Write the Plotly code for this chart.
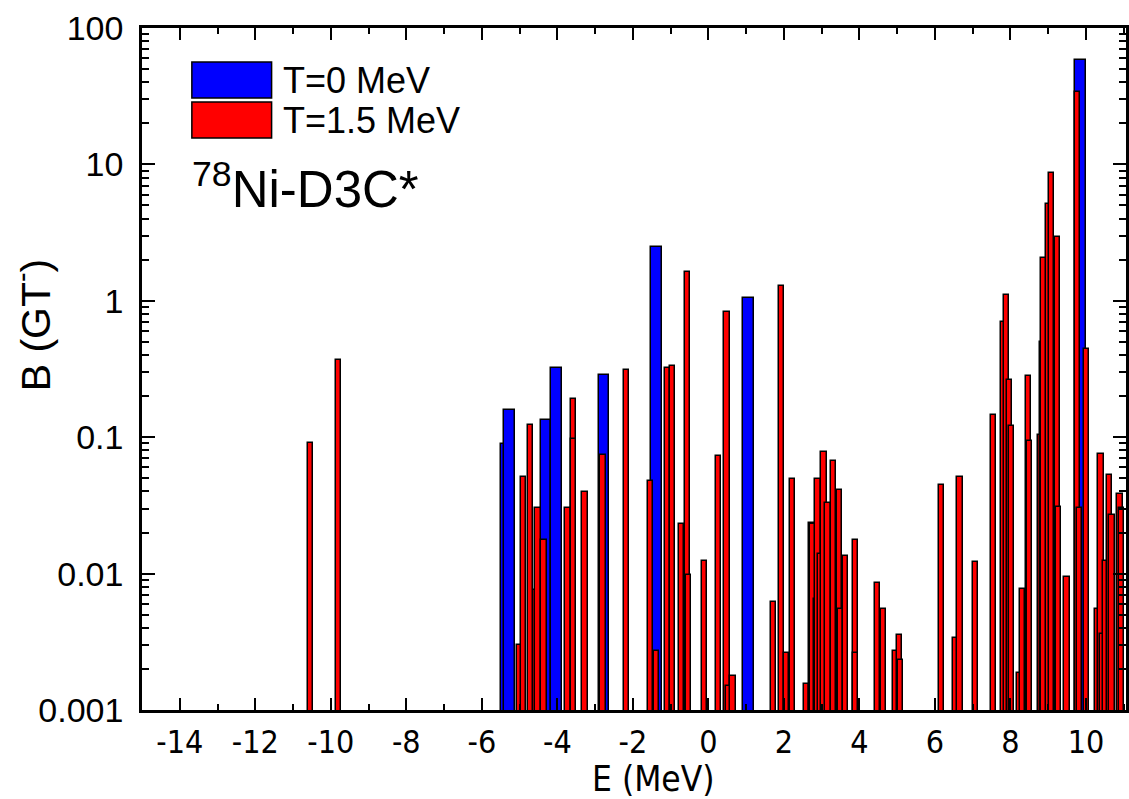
import plotly.graph_objects as go

# ---------------- data ----------------
E_T0 = [-5.36, -5.27, -4.30, -4.02, -2.77, -1.38, 1.06, 9.86]
B_T0 = [0.0887, 0.157, 0.134, 0.323, 0.284, 2.48, 1.04, 58.2]

E_T15 = [-10.53, -9.79,
         -4.61, -4.99, -4.90, -4.72, -4.51, -4.35, -3.72, -3.58, -3.57, -3.27,
         -2.79, -2.17, -1.54, -1.38, -1.08, -0.95, -0.71, -0.55, -0.52,
         -0.11, 0.26, 0.49, 0.54, 0.65, 1.72, 1.93, 2.06, 2.22,
         2.60, 2.73, 2.77, 2.86, 2.90, 2.97, 3.19, 3.06, 3.17, 3.32, 3.47, 3.50,
         3.64, 3.89, 3.90, 4.47, 4.64, 4.95, 5.07, 5.09,
         6.17, 6.54, 6.66, 7.07, 7.55, 7.83, 7.90, 7.97, 8.03, 8.23, 8.32,
         8.48, 8.50, 8.79, 8.84, 8.89, 9.02, 9.08, 9.24, 9.27, 9.50,
         9.78, 9.83, 10.02, 10.32, 10.40, 10.45, 10.51, 10.62, 10.69, 10.90, 10.95]
B_T15 = [0.090, 0.369,
         0.0076, 0.0030, 0.0508, 0.123, 0.0301, 0.0176, 0.0301, 0.191, 0.0975, 0.0397,
         0.0741, 0.313, 0.048, 0.00269, 0.32, 0.33, 0.0231, 1.62, 0.00977,
         0.0124, 0.0732, 0.824, 0.0015, 0.00178, 0.00622, 1.29, 0.00263, 0.0494,
         0.00155, 0.0235, 0.023, 0.0065, 0.0494, 0.0139, 0.0118, 0.0783, 0.0328, 0.0669, 0.0408, 0.0055,
         0.0134, 0.0175, 0.00263, 0.00858, 0.0055, 0.0027, 0.00356, 0.00233,
         0.0446, 0.0034, 0.0508, 0.0121, 0.145, 0.70, 1.11, 0.264, 0.121, 0.00186, 0.00767,
         0.282, 0.0933, 0.104, 0.50, 2.07, 5.13, 8.6, 2.95, 0.0306, 0.0095,
         33.8, 0.0302, 0.441, 0.0055, 0.0757, 0.0036, 0.0124, 0.0531, 0.027, 0.0384, 0.0302]

X_TICKS = [-14, -12, -10, -8, -6, -4, -2, 0, 2, 4, 6, 8, 10]
X_TICKTEXT = ["-14", "-12", "-10", "-8", "-6", "-4", "-2", "0", "2", "4", "6", "8", "10"]
Y_TICKS = [0.001, 0.01, 0.1, 1, 10, 100]
Y_TICKTEXT = ["0.001", "0.01", "0.1", "1", "10", "100"]

LEGEND_LABELS = ["T=0 MeV", "T=1.5 MeV"]

# ---------------- layout geometry ----------------
W, H = 1129, 799
L, R, T, Bm = 142, 1129, 28, 710  # plot area in pixels


def px(x):
    return (x - L) / (R - L)


def py(y):
    return (Bm - y) / (Bm - T)


FONT = "Liberation Sans, Arial, sans-serif"
NARROW = "DejaVu Sans Condensed, Liberation Sans Narrow, Arial Narrow, Liberation Sans, Arial, sans-serif"

fig = go.Figure()
fig.add_trace(go.Bar(x=E_T0, y=B_T0, width=0.28, name=LEGEND_LABELS[0],
                     marker=dict(color="#0000FF", line=dict(color="black", width=1.5)),
                     showlegend=False))
fig.add_trace(go.Bar(x=E_T15, y=B_T15, width=0.14, name=LEGEND_LABELS[1],
                     marker=dict(color="#FF0000", line=dict(color="black", width=1.5)),
                     showlegend=False))

fig.update_layout(
    width=W, height=H,
    margin=dict(l=L, r=W - R, t=T, b=H - Bm, pad=0),
    paper_bgcolor="white", plot_bgcolor="white",
    barmode="overlay", bargap=0,
    font=dict(family=FONT, color="black", size=30),
    xaxis=dict(range=[-15, 11.06], tickmode="array", tickvals=X_TICKS,
               ticktext=X_TICKTEXT,
               ticks="inside", ticklen=12, tickwidth=2, tickcolor="black",
               showline=True, linewidth=2.5, linecolor="black", mirror="ticks",
               showgrid=False, zeroline=False, ticklabelstandoff=2,
               tickfont=dict(family=NARROW, size=32),
               minor=dict(dtick=1, tick0=0, ticks="inside", ticklen=6, tickwidth=2,
                          tickcolor="black", showgrid=False)),
    yaxis=dict(type="log", range=[-3, 2], tickmode="array", tickvals=Y_TICKS,
               ticktext=Y_TICKTEXT,
               ticks="inside", ticklen=13, tickwidth=2, tickcolor="black",
               showline=True, linewidth=2.5, linecolor="black", mirror="ticks",
               showgrid=False, zeroline=False, ticklabelstandoff=9,
               tickfont=dict(family=FONT, size=34),
               minor=dict(dtick="D1", ticks="inside", ticklen=7, tickwidth=1.5,
                          tickcolor="black", showgrid=False)),
)

shapes = []
annotations = []
# legend boxes
shapes.append(dict(type="rect", xref="paper", yref="paper",
                   x0=px(192), x1=px(272), y0=py(98), y1=py(62),
                   fillcolor="#0000FF", line=dict(color="black", width=1.5)))
shapes.append(dict(type="rect", xref="paper", yref="paper",
                   x0=px(192), x1=px(272), y0=py(138), y1=py(102),
                   fillcolor="#FF0000", line=dict(color="black", width=1.5)))
annotations.append(dict(text=LEGEND_LABELS[0], xref="paper", yref="paper",
                        x=px(281), y=py(80), xanchor="left", yanchor="middle",
                        showarrow=False, font=dict(size=36)))
annotations.append(dict(text=LEGEND_LABELS[1], xref="paper", yref="paper",
                        x=px(281), y=py(120), xanchor="left", yanchor="middle",
                        showarrow=False, font=dict(size=36)))
annotations.append(dict(text="<sup>78</sup>Ni-D3C*", xref="paper", yref="paper",
                        x=px(190), y=py(186), xanchor="left", yanchor="middle",
                        showarrow=False, font=dict(size=51)))
# axis titles
annotations.append(dict(text="B (GT<sup>-</sup>)", xref="paper", yref="paper",
                        x=px(32), y=py(325), xanchor="center", yanchor="middle",
                        textangle=-90, showarrow=False, font=dict(size=41)))
annotations.append(dict(text="E (MeV)", xref="paper", yref="paper",
                        x=px(655), y=py(779), xanchor="center", yanchor="middle",
                        showarrow=False, font=dict(family=NARROW, size=35)))
fig.update_layout(shapes=shapes, annotations=annotations)

fig.write_html("out.html")
